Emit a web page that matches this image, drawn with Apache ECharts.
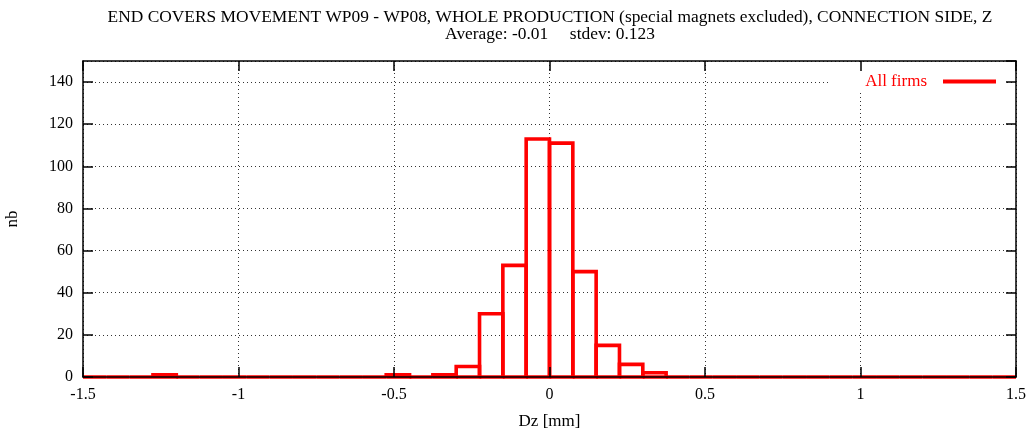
<!DOCTYPE html>
<html>
<head>
<meta charset="utf-8">
<script src="https://cdn.jsdelivr.net/npm/echarts@6/dist/echarts.min.js"></script>
<style>html,body{margin:0;padding:0;background:#fff}#c{width:1032px;height:429px}</style>
</head>
<body>
<div id="c"></div>
<script>
var titleLines = ['END COVERS MOVEMENT WP09 - WP08, WHOLE PRODUCTION (special magnets excluded), CONNECTION SIDE, Z',
                  'Average: -0.01     stdev: 0.123'];
var seriesName = 'All firms';
var binWidth = 0.075;
var binCenters = [-1.4625,-1.3875,-1.3125,-1.2375,-1.1625,-1.0875,-1.0125,-0.9375,-0.8625,-0.7875,
                  -0.7125,-0.6375,-0.5625,-0.4875,-0.4125,-0.3375,-0.2625,-0.1875,-0.1125,-0.0375,
                  0.0375,0.1125,0.1875,0.2625,0.3375,0.4125,0.4875,0.5625,0.6375,0.7125,
                  0.7875,0.8625,0.9375,1.0125,1.0875,1.1625,1.2375,1.3125,1.3875,1.4625];
var counts = [0,0,0,1,0,0,0,0,0,0,
              0,0,0,1,0,1,5,30,53,113,
              111,50,15,6,2,0,0,0,0,0,
              0,0,0,0,0,0,0,0,0,0];
var xTicks = {min:-1.5, max:1.5, interval:0.5};
var yTicks = {min:0, max:150, interval:20};

var data = binCenters.map(function(c,i){return [c, counts[i]];});
var font = '"Liberation Serif", "Times New Roman", serif';
var chart = echarts.init(document.getElementById('c'));
var tickAxisCommon = {
  axisLine:{show:true, onZero:false, lineStyle:{color:'#000', width:1.5}},
  axisTick:{show:true, inside:true, length:10, lineStyle:{color:'#000', width:1.5}},
  splitLine:{show:false}
};
function ax(extra, ticks){ return Object.assign({type:'value', min:ticks.min, max:ticks.max, interval:ticks.interval}, JSON.parse(JSON.stringify(tickAxisCommon)), extra); }
var gridLineStyle = {show:true, lineStyle:{color:'#333', width:1, type:[1,3]}};
chart.setOption({
  animation:false,
  backgroundColor:'#fff',
  grid:{left:83, right:16, top:61, bottom:52, containLabel:false, outerBoundsMode:'none'},
  graphic:[
    {type:'text', x:550, y:17, style:{text:titleLines[0], font:'17.4px ' + font, fill:'#000', align:'center', verticalAlign:'middle'}},
    {type:'text', x:550, y:34, style:{text:titleLines[1], font:'17.4px ' + font, fill:'#000', align:'center', verticalAlign:'middle'}}
  ],
  legend:{
    right:27, top:62, align:'right', orient:'vertical',
    padding:[11,9,1,36], backgroundColor:'#fff', z:3,
    itemWidth:53, itemHeight:4, icon:'rect',
    textStyle:{color:'#ff0000', fontFamily:font, fontSize:17, padding:[0,11,0,0]},
    data:[{name:seriesName, itemStyle:{color:'#ff0000'}}]
  },
  xAxis:[
    ax({position:'bottom', z:5, name:'Dz [mm]', nameLocation:'middle', nameGap:36,
        nameTextStyle:{fontFamily:font, fontSize:17, color:'#000'},
        axisLabel:{show:true, margin:10, fontFamily:font, fontSize:16, color:'#000'}}, xTicks),
    ax({position:'top', z:5, axisLabel:{show:false}}, xTicks),
    {type:'value', min:xTicks.min, max:xTicks.max, interval:xTicks.interval, position:'bottom', z:0,
     axisLine:{show:false}, axisTick:{show:false}, axisLabel:{show:false}, splitLine:gridLineStyle}
  ],
  yAxis:[
    ax({position:'left', z:5, name:'nb', nameLocation:'middle', nameGap:62, nameRotate:90,
        nameTextStyle:{fontFamily:font, fontSize:17, color:'#000'},
        axisLabel:{show:true, margin:10, showMaxLabel:false, fontFamily:font, fontSize:16, color:'#000'}}, yTicks),
    ax({position:'right', z:5, axisLabel:{show:false}}, yTicks),
    {type:'value', min:yTicks.min, max:yTicks.max, interval:yTicks.interval, position:'left', z:0,
     axisLine:{show:false}, axisTick:{show:false}, axisLabel:{show:false}, splitLine:gridLineStyle}
  ],
  series:[{
    type:'custom', name:seriesName, xAxisIndex:0, yAxisIndex:0, z:2,
    itemStyle:{color:'#ff0000'},
    renderItem:function(params, api){
      var c = api.value(0), v = api.value(1);
      var bl = api.coord([c - binWidth/2, 0]);
      var tl = api.coord([c - binWidth/2, v]);
      var tr = api.coord([c + binWidth/2, v]);
      var br = api.coord([c + binWidth/2, 0]);
      return {type:'polyline', shape:{points:[bl, tl, tr, br, bl]},
              style:{stroke:'#ff0000', fill:null, lineWidth:3.6, lineJoin:'miter'}};
    },
    data:data
  }]
});
</script>
</body>
</html>
